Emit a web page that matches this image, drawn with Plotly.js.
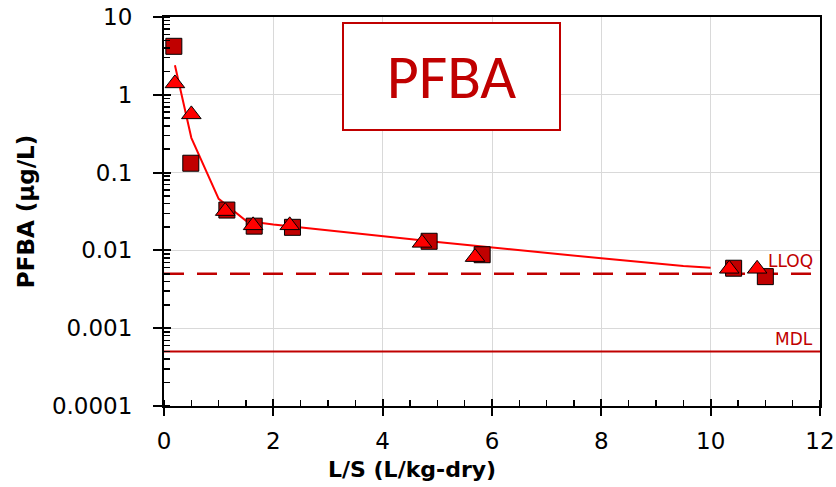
<!DOCTYPE html>
<html>
<head>
<meta charset="utf-8">
<script src="https://cdn.plot.ly/plotly-3.0.1.min.js"></script>
<style>html,body{margin:0;padding:0;background:#fff;}#chart{width:836px;height:487px;}</style>
</head>
<body>
<div id="chart"></div>
<script>
// Measured squares (dark red)
const xSquares = [0.18, 0.49, 1.15, 1.65, 2.35, 4.85, 5.82, 10.42, 11.0];
const ySquares = [4.2, 0.132, 0.033, 0.0205, 0.0198, 0.0131, 0.0088, 0.0059, 0.0046];
// Measured triangles (red)
const xTriangles = [0.2, 0.5, 1.12, 1.63, 2.3, 4.72, 5.69, 10.34, 10.85];
const yTriangles = [1.4, 0.56, 0.032, 0.021, 0.021, 0.0125, 0.0082, 0.0058, 0.0058];
// Model fit line
const xFit = [0.2, 0.5, 1.0, 1.5, 2.0, 5.0, 8.0, 9.5, 10.0];
const yFit = [2.4, 0.28, 0.046, 0.024, 0.0215, 0.0128, 0.0079, 0.0063, 0.006];
// Limits
const limitX = [0, 12];
const lloqY = [0.005, 0.005];
const mdlY = [0.0005, 0.0005];
// Ticks
const xTickVals = [0, 2, 4, 6, 8, 10, 12];
const yTickVals = [0.0001, 0.001, 0.01, 0.1, 1, 10];
const yTickText = ['0.0001', '0.001', '0.01', '0.1', '1', '10'];

const DARK = '#c00000';

const traces = [
  {x: limitX, y: mdlY, mode: 'lines', line: {color: DARK, width: 2}, hoverinfo: 'skip'},
  {x: limitX, y: lloqY, mode: 'lines', line: {color: DARK, width: 2.5, dash: '20px,13px'}, hoverinfo: 'skip'},
  {x: xFit, y: yFit, mode: 'lines', line: {color: '#ff0000', width: 2}, hoverinfo: 'skip'},
  {x: xSquares, y: ySquares, mode: 'markers',
   marker: {symbol: 'square', size: 16, color: DARK, line: {color: '#000', width: 1}}},
  {x: xTriangles, y: yTriangles, mode: 'markers',
   marker: {symbol: 'triangle-up', size: 17, color: '#ff0000', line: {color: '#000', width: 1}}},
  {x: [], y: [], xaxis: 'x2', yaxis: 'y2', mode: 'markers'},
  {x: [], y: [], xaxis: 'x', yaxis: 'y3', mode: 'markers'}
];

const tickFont = {family: 'DejaVu Sans, Verdana, sans-serif', size: 23, color: '#000'};
const titleFont = {family: 'DejaVu Sans, Verdana, sans-serif', size: 22, color: '#000', weight: 'bold'};

const layout = {
  width: 836, height: 487,
  margin: {l: 164, r: 16, t: 17, b: 81},
  paper_bgcolor: '#fff', plot_bgcolor: '#fff',
  showlegend: false,
  font: tickFont,
  xaxis: {
    range: [0, 12], tickmode: 'array', tickvals: xTickVals,
    ticks: 'outside', ticklen: 8, tickwidth: 2, tickcolor: '#000',
    showline: true, linecolor: '#000', linewidth: 2, mirror: true,
    showgrid: true, gridcolor: '#d9d9d9', gridwidth: 1,
    zeroline: false, tickfont: tickFont, ticklabelstandoff: 5,
    minor: {ticks: 'inside', dtick: 0.5, ticklen: 6, tickwidth: 1.5, tickcolor: '#000', showgrid: false}
  },
  yaxis: {
    type: 'log', range: [-4, 1], tickmode: 'array', tickvals: yTickVals,
    ticks: 'outside', ticklen: 9, tickwidth: 2, tickcolor: '#000', showticklabels: false,
    showline: true, linecolor: '#000', linewidth: 2, mirror: true,
    showgrid: true, gridcolor: '#d9d9d9', gridwidth: 1,
    zeroline: false,
    minor: {ticks: 'inside', dtick: 'D1', ticklen: 6, tickwidth: 1.5, tickcolor: '#000', showgrid: false}
  },
  yaxis3: {
    overlaying: 'y', anchor: 'x', side: 'left', type: 'log', range: [-4, 1],
    tickmode: 'array', tickvals: yTickVals, ticktext: yTickText,
    ticks: 'outside', ticklen: 26, tickwidth: 1, tickcolor: 'rgba(0,0,0,0)',
    showgrid: false, showline: false, zeroline: false, tickfont: tickFont,
    title: {text: 'PFBA (µg/L)', font: {family: 'DejaVu Sans, Verdana, sans-serif', size: 23, color: '#000', weight: 'bold'}, standoff: 10}
  },
  xaxis2: {
    overlaying: 'x', anchor: 'y2', range: [0, 12], tickmode: 'array', tickvals: xTickVals,
    ticks: 'inside', ticklen: 7, tickwidth: 2, tickcolor: '#000',
    showticklabels: false, showgrid: false, showline: false, zeroline: false
  },
  yaxis2: {
    overlaying: 'y', anchor: 'x2', type: 'log', range: [-4, 1], tickmode: 'array', tickvals: yTickVals,
    ticks: 'inside', ticklen: 7, tickwidth: 2, tickcolor: '#000',
    showticklabels: false, showgrid: false, showline: false, zeroline: false
  },
  annotations: [
    {xref: 'paper', yref: 'paper', x: 0.438, y: 0.847, xanchor: 'center', yanchor: 'middle',
     text: 'PFBA', showarrow: false, width: 215, height: 105, borderpad: 0,
     bordercolor: DARK, borderwidth: 2, bgcolor: '#fff',
     font: {family: 'Carlito, Lato, sans-serif', size: 62, color: DARK}},
    {xref: 'paper', yref: 'y', x: 0.993, y: Math.log10(0.005), xanchor: 'right', yanchor: 'bottom',
     text: 'LLOQ', showarrow: false, yshift: 1,
     font: {family: 'DejaVu Sans, Verdana, sans-serif', size: 17, color: DARK}},
    {xref: 'paper', yref: 'y', x: 0.993, y: Math.log10(0.0005), xanchor: 'right', yanchor: 'bottom',
     text: 'MDL', showarrow: false, yshift: 1,
     font: {family: 'DejaVu Sans, Verdana, sans-serif', size: 17, color: DARK}},
    {xref: 'paper', yref: 'paper', x: 0.378, y: -0.163, xanchor: 'center', yanchor: 'middle',
     text: 'L/S (L/kg-dry)', showarrow: false, font: titleFont}
  ]
};

Plotly.newPlot('chart', traces, layout, {displayModeBar: false, staticPlot: true});
</script>
</body>
</html>
